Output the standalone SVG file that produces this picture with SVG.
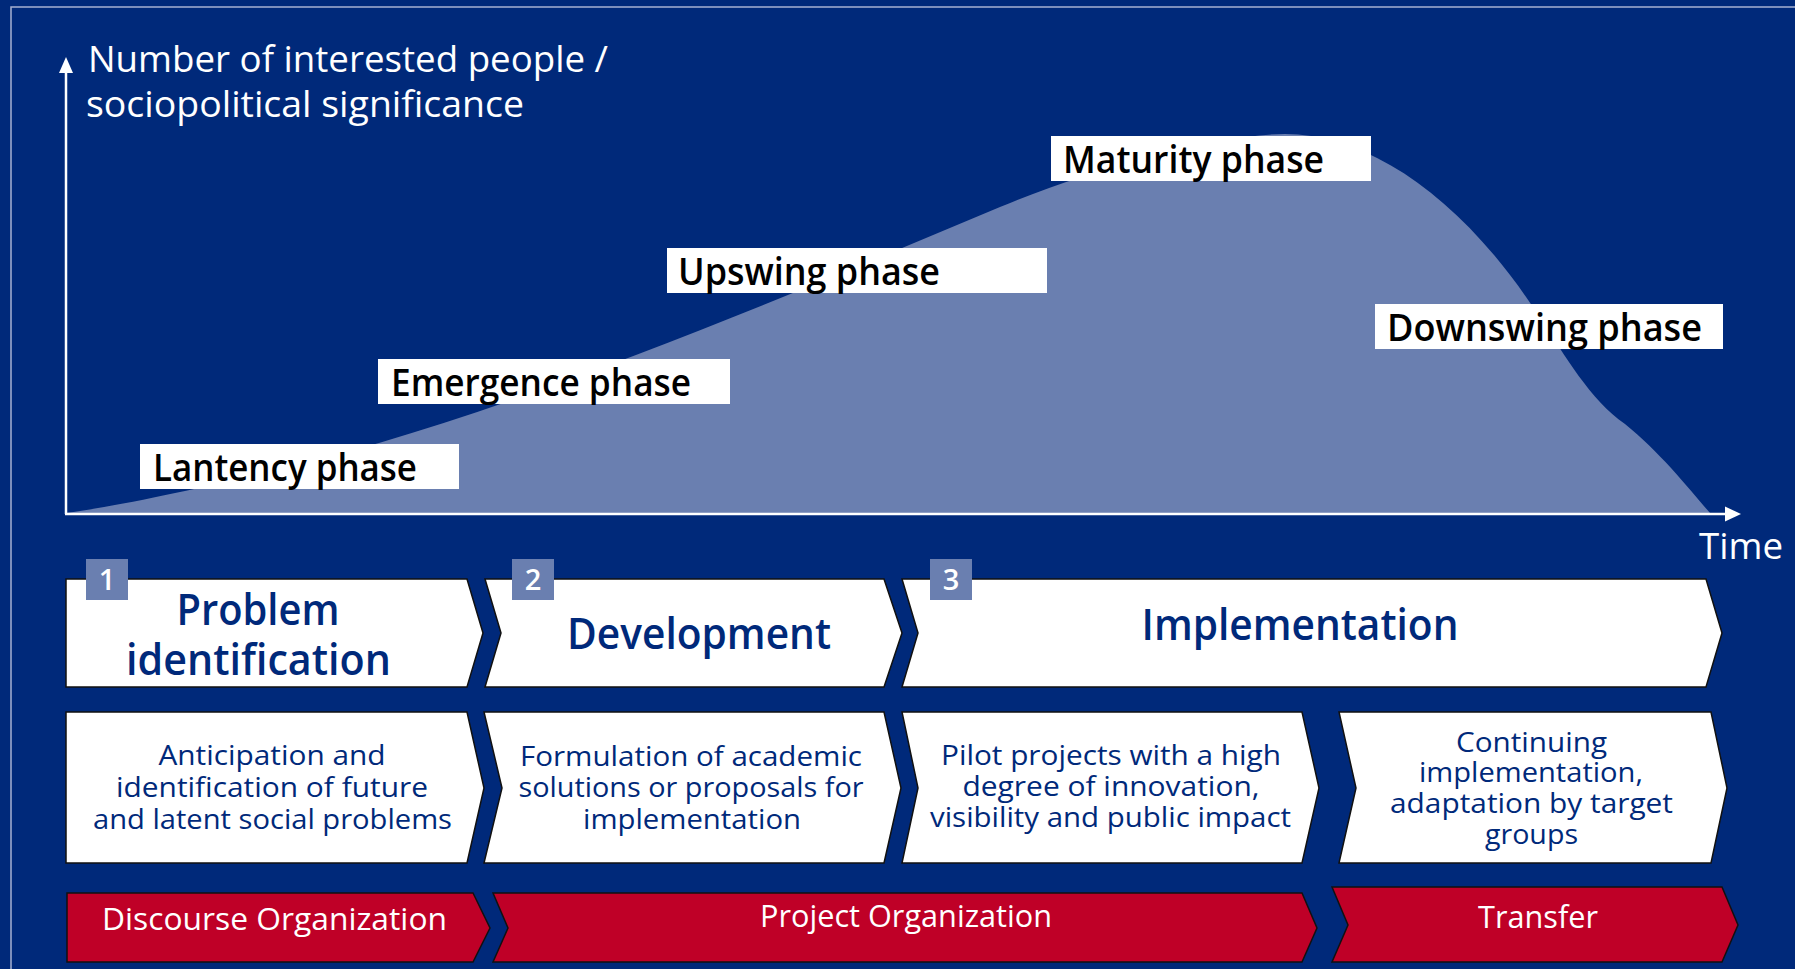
<svg xmlns="http://www.w3.org/2000/svg" width="1795" height="969" viewBox="0 0 1795 969">
<style>
.bg{fill:#00297a}
.frame{fill:none;stroke:#a7b1d2;stroke-width:1.5}
.area{fill:#6a7fb0}
.axis{stroke:#ffffff;stroke-width:2.5;fill:none}
.head{fill:#ffffff}
text{font-family:"Open Sans","Noto Sans","Liberation Sans",sans-serif}
.axlabel{font-size:36px;font-weight:500;fill:#ffffff}
.pbox{fill:#ffffff}
.phase{font-weight:600;font-size:38px;fill:#000000}
.chev{fill:#ffffff;stroke:#111111;stroke-width:1.5}
.red{fill:#bf0027;stroke:#111111;stroke-width:1.5}
.badge{fill:#6a7fb0}
.num{font-weight:600;font-size:29px;fill:#ffffff;text-anchor:middle}
.title{font-weight:600;font-size:43px;fill:#00297a;text-anchor:middle}
.desc{font-size:27px;fill:#00297a;text-anchor:middle}
.redtxt{font-size:31px;fill:#ffffff;text-anchor:middle}
</style>
<rect class="bg" x="0" y="0" width="1795" height="969"/>
<rect class="frame" x="11" y="7" width="1800" height="1000"/>

<g id="chart">
  <path class="area" d="M66,513 C140,503 260,475 379,443 C586,381 793,294 1000,207 C1095,167 1220,134 1285,134 C1370,134 1465,200 1540,318 C1565,355 1590,400 1625,424 C1660,452 1690,490 1710,513 Z"/>
</g>

<g id="axes">
  <line class="axis" x1="66" y1="514" x2="66" y2="70"/>
  <polygon class="head" points="66,57 59,73 73,73"/>
  <line class="axis" x1="65" y1="514" x2="1728" y2="514"/>
  <polygon class="head" points="1741,514 1725,506.5 1725,521.5"/>
  <text class="axlabel" x="88" y="72" textLength="520" lengthAdjust="spacingAndGlyphs">Number of interested people /</text>
  <text class="axlabel" x="86" y="117" textLength="438" lengthAdjust="spacingAndGlyphs">sociopolitical significance</text>
  <text class="axlabel" x="1699" y="559" textLength="84" lengthAdjust="spacingAndGlyphs">Time</text>
</g>

<g id="phase-latency">
  <rect class="pbox" x="140" y="444" width="319" height="45"/>
  <text class="phase" x="153" y="481" textLength="264" lengthAdjust="spacingAndGlyphs">Lantency phase</text>
</g>
<g id="phase-emergence">
  <rect class="pbox" x="378" y="359" width="352" height="45"/>
  <text class="phase" x="391" y="396" textLength="300" lengthAdjust="spacingAndGlyphs">Emergence phase</text>
</g>
<g id="phase-upswing">
  <rect class="pbox" x="667" y="248" width="380" height="45"/>
  <text class="phase" x="678" y="285" textLength="262" lengthAdjust="spacingAndGlyphs">Upswing phase</text>
</g>
<g id="phase-maturity">
  <rect class="pbox" x="1051" y="136" width="320" height="45"/>
  <text class="phase" x="1063" y="173" textLength="261" lengthAdjust="spacingAndGlyphs">Maturity phase</text>
</g>
<g id="phase-downswing">
  <rect class="pbox" x="1375" y="304" width="348" height="45"/>
  <text class="phase" x="1387" y="341" textLength="315" lengthAdjust="spacingAndGlyphs">Downswing phase</text>
</g>

<g id="step-1">
  <path class="chev" d="M66,579 H467 L483,633 L467,687 H66 Z"/>
  <rect class="badge" x="86" y="559" width="42" height="41"/>
  <text class="num" x="107" y="590">1</text>
  <text class="title" x="258" y="625" textLength="163" lengthAdjust="spacingAndGlyphs">Problem</text>
  <text class="title" x="258.5" y="675" textLength="265" lengthAdjust="spacingAndGlyphs">identification</text>
</g>
<g id="step-2">
  <path class="chev" d="M485,579 H884 L902,633 L884,687 H485 L501,633 Z"/>
  <rect class="badge" x="512" y="559" width="42" height="41"/>
  <text class="num" x="533" y="590">2</text>
  <text class="title" x="699" y="649" textLength="264" lengthAdjust="spacingAndGlyphs">Development</text>
</g>
<g id="step-3">
  <path class="chev" d="M902,579 H1706 L1722,633 L1706,687 H902 L918,633 Z"/>
  <rect class="badge" x="930" y="559" width="42" height="41"/>
  <text class="num" x="951" y="590">3</text>
  <text class="title" x="1300" y="640" textLength="317" lengthAdjust="spacingAndGlyphs">Implementation</text>
</g>

<g id="desc-1">
  <path class="chev" d="M66,712 H467 L484,788 L467,863 H66 Z"/>
  <text class="desc" x="272" y="765" textLength="227" lengthAdjust="spacingAndGlyphs">Anticipation and</text>
  <text class="desc" x="272" y="797" textLength="312" lengthAdjust="spacingAndGlyphs">identification of future</text>
  <text class="desc" x="272.5" y="829" textLength="359" lengthAdjust="spacingAndGlyphs">and latent social problems</text>
</g>
<g id="desc-2">
  <path class="chev" d="M484,712 H884 L901,788 L884,863 H484 L502,788 Z"/>
  <text class="desc" x="691" y="766" textLength="342" lengthAdjust="spacingAndGlyphs">Formulation of academic</text>
  <text class="desc" x="691" y="797" textLength="345" lengthAdjust="spacingAndGlyphs">solutions or proposals for</text>
  <text class="desc" x="692" y="829" textLength="218" lengthAdjust="spacingAndGlyphs">implementation</text>
</g>
<g id="desc-3">
  <path class="chev" d="M902,712 H1302 L1319,788 L1302,863 H902 L918,788 Z"/>
  <text class="desc" x="1111" y="765" textLength="340" lengthAdjust="spacingAndGlyphs">Pilot projects with a high</text>
  <text class="desc" x="1111" y="796" textLength="297" lengthAdjust="spacingAndGlyphs">degree of innovation,</text>
  <text class="desc" x="1110.5" y="827" textLength="361" lengthAdjust="spacingAndGlyphs">visibility and public impact</text>
</g>
<g id="desc-4">
  <path class="chev" d="M1339,712 H1711 L1727,788 L1711,863 H1339 L1356,788 Z"/>
  <text class="desc" x="1531.5" y="752" textLength="151" lengthAdjust="spacingAndGlyphs">Continuing</text>
  <text class="desc" x="1531" y="782" textLength="224" lengthAdjust="spacingAndGlyphs">implementation,</text>
  <text class="desc" x="1531.5" y="813" textLength="283" lengthAdjust="spacingAndGlyphs">adaptation by target</text>
  <text class="desc" x="1531.5" y="844" textLength="93" lengthAdjust="spacingAndGlyphs">groups</text>
</g>

<g id="org-discourse">
  <path class="red" d="M67,893 H473 L490,928 L473,962 H67 Z"/>
  <text class="redtxt" x="274.5" y="930" textLength="345" lengthAdjust="spacingAndGlyphs">Discourse Organization</text>
</g>
<g id="org-project">
  <path class="red" d="M493,893 H1302 L1317,928 L1302,962 H493 L508,928 Z"/>
  <text class="redtxt" x="906" y="927" textLength="292" lengthAdjust="spacingAndGlyphs">Project Organization</text>
</g>
<g id="org-transfer">
  <path class="red" d="M1332,887 H1722 L1738,925 L1722,962 H1332 L1348,925 Z"/>
  <text class="redtxt" x="1538" y="928" textLength="120" lengthAdjust="spacingAndGlyphs">Transfer</text>
</g>

<g id="connectors"></g>
</svg>
